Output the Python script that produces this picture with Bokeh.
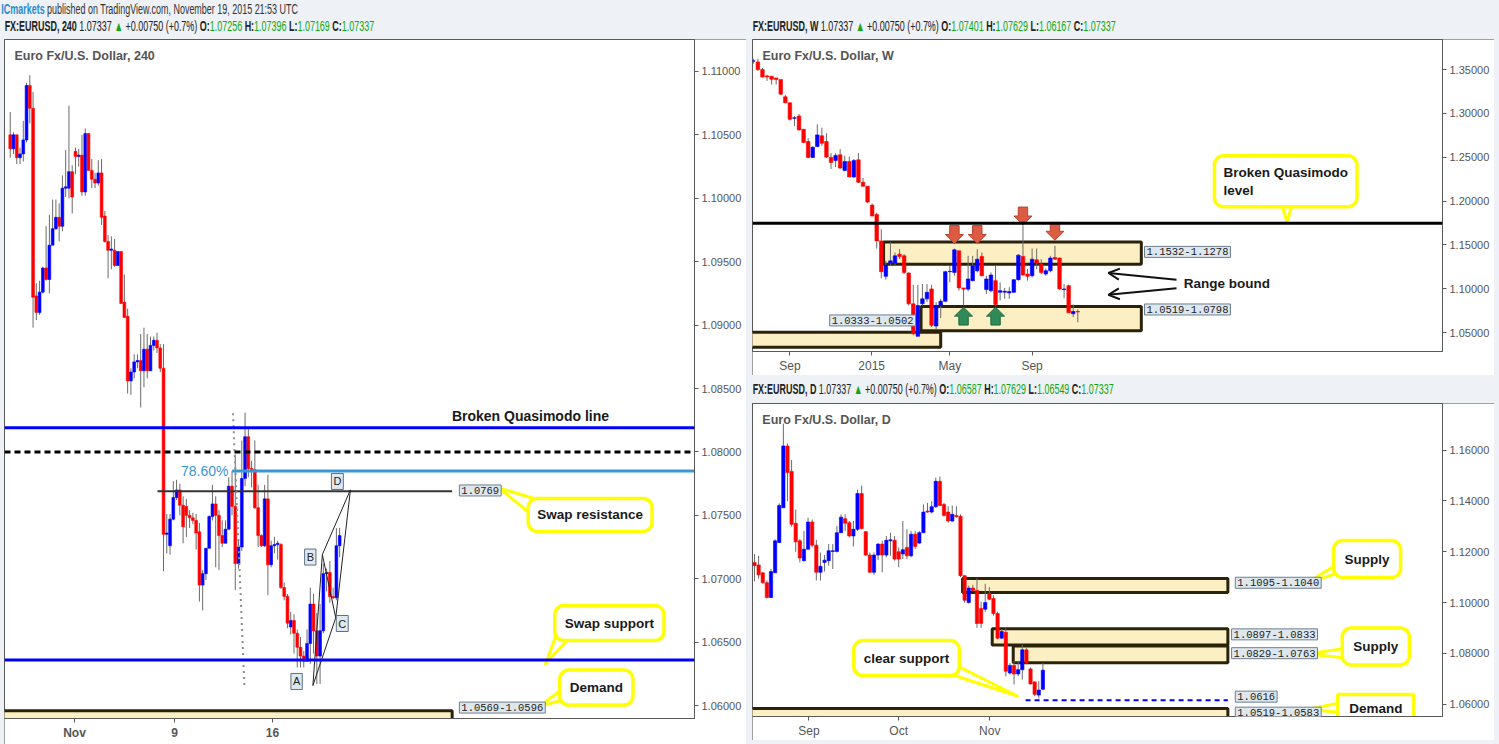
from bokeh.plotting import figure
from bokeh.models import (ColumnDataSource, Range1d, FixedTicker, NumeralTickFormatter, Label, Div,
                          Spacer, Span, Arrow, OpenHead)
from bokeh.layouts import column, row
from bokeh.core.properties import value
from bokeh.embed import file_html
from bokeh.resources import INLINE

# ---------------- 4H data (EURUSD, 240) ----------------
o4 = [1.1050, 1.1039, 1.1050, 1.1032, 1.1035, 1.1046, 1.1089, 1.1071, 1.0923, 1.0910,
      1.0926, 1.0945, 1.0936, 1.0963, 1.0976, 1.0985, 1.0978, 1.1008, 1.1008, 1.1021,
      1.1037, 1.1033, 1.1034, 1.1005, 1.1051, 1.1022, 1.1015, 1.1012, 1.1020, 1.0986,
      1.0966, 1.0959, 1.0959, 1.0947, 1.0958, 1.0918, 1.0907, 1.0856, 1.0863, 1.0871,
      1.0872, 1.0864, 1.0881, 1.0864, 1.0884, 1.0888, 1.0882, 1.0866, 1.0735, 1.0726,
      1.0747, 1.0764, 1.0770, 1.0758, 1.0757, 1.0750, 1.0748, 1.0746, 1.0737, 1.0695,
      1.0704, 1.0724, 1.0749, 1.0759, 1.0750, 1.0734, 1.0728, 1.0739, 1.0773, 1.0757,
      1.0712, 1.0725, 1.0779, 1.0812, 1.0787, 1.0786, 1.0756, 1.0734, 1.0726, 1.0763,
      1.0711, 1.0726, 1.0727, 1.0727, 1.0693, 1.0686, 1.0662, 1.0667, 1.0657, 1.0646,
      1.0639, 1.0635, 1.0649, 1.0680, 1.0659, 1.0639, 1.0659, 1.0704, 1.0705, 1.0686,
      1.0685, 1.0726]
h4 = [1.1068, 1.1052, 1.1050, 1.1040, 1.1061, 1.1091, 1.1097, 1.1084, 1.0933, 1.0935,
      1.0946, 1.0978, 1.0987, 1.0999, 1.0999, 1.0996, 1.1018, 1.1038, 1.1073, 1.1026,
      1.1040, 1.1039, 1.1050, 1.1055, 1.1051, 1.1031, 1.1020, 1.1030, 1.1031, 1.0990,
      1.0971, 1.0970, 1.0968, 1.0958, 1.0958, 1.0940, 1.0913, 1.0866, 1.0877, 1.0877,
      1.0893, 1.0898, 1.0893, 1.0891, 1.0891, 1.0894, 1.0885, 1.0885, 1.0751, 1.0751,
      1.0777, 1.0778, 1.0775, 1.0765, 1.0763, 1.0754, 1.0752, 1.0751, 1.0744, 1.0707,
      1.0724, 1.0750, 1.0774, 1.0765, 1.0754, 1.0746, 1.0746, 1.0780, 1.0785, 1.0798,
      1.0730, 1.0809, 1.0831, 1.0818, 1.0793, 1.0809, 1.0774, 1.0735, 1.0774, 1.0782,
      1.0730, 1.0733, 1.0730, 1.0728, 1.0697, 1.0688, 1.0674, 1.0672, 1.0660, 1.0654,
      1.0643, 1.0660, 1.0693, 1.0688, 1.0673, 1.0680, 1.0712, 1.0708, 1.0714, 1.0693,
      1.0740, 1.0740]
l4 = [1.1032, 1.1035, 1.1027, 1.1027, 1.1029, 1.1044, 1.1059, 1.0898, 1.0904, 1.0908,
      1.0925, 1.0935, 1.0925, 1.0963, 1.0975, 1.0966, 1.0974, 1.1001, 1.1000, 1.0988,
      1.1019, 1.1025, 1.1002, 1.1002, 1.1022, 1.1008, 1.1008, 1.1010, 1.0979, 1.0965,
      1.0937, 1.0944, 1.0946, 1.0947, 1.0917, 1.0906, 1.0846, 1.0845, 1.0858, 1.0866,
      1.0835, 1.0851, 1.0858, 1.0864, 1.0880, 1.0878, 1.0863, 1.0706, 1.0720, 1.0719,
      1.0746, 1.0762, 1.0750, 1.0728, 1.0733, 1.0740, 1.0743, 1.0723, 1.0682, 1.0675,
      1.0699, 1.0724, 1.0746, 1.0709, 1.0707, 1.0725, 1.0728, 1.0739, 1.0750, 1.0691,
      1.0708, 1.0722, 1.0773, 1.0780, 1.0772, 1.0755, 1.0725, 1.0725, 1.0725, 1.0687,
      1.0709, 1.0720, 1.0715, 1.0692, 1.0683, 1.0661, 1.0656, 1.0641, 1.0630, 1.0630,
      1.0630, 1.0635, 1.0633, 1.0641, 1.0617, 1.0617, 1.0657, 1.0690, 1.0681, 1.0684,
      1.0683, 1.0717]
c4 = [1.1039, 1.1050, 1.1032, 1.1035, 1.1046, 1.1089, 1.1071, 1.0922, 1.0910, 1.0926,
      1.0945, 1.0936, 1.0963, 1.0976, 1.0985, 1.0978, 1.1008, 1.1009, 1.1021, 1.1001,
      1.1033, 1.1034, 1.1005, 1.1051, 1.1022, 1.1015, 1.1012, 1.1020, 1.0985, 1.0966,
      1.0959, 1.0960, 1.0947, 1.0958, 1.0917, 1.0906, 1.0856, 1.0863, 1.0871, 1.0872,
      1.0864, 1.0881, 1.0864, 1.0884, 1.0888, 1.0882, 1.0866, 1.0735, 1.0736, 1.0747,
      1.0764, 1.0770, 1.0758, 1.0741, 1.0750, 1.0748, 1.0746, 1.0736, 1.0695, 1.0704,
      1.0724, 1.0749, 1.0759, 1.0750, 1.0734, 1.0728, 1.0739, 1.0773, 1.0757, 1.0712,
      1.0725, 1.0779, 1.0812, 1.0787, 1.0786, 1.0756, 1.0734, 1.0726, 1.0763, 1.0711,
      1.0726, 1.0727, 1.0728, 1.0693, 1.0686, 1.0665, 1.0667, 1.0657, 1.0646, 1.0639,
      1.0635, 1.0649, 1.0680, 1.0659, 1.0639, 1.0659, 1.0704, 1.0705, 1.0686, 1.0685,
      1.0726, 1.0734]
x4_ticks = [19.7, 50.4, 80.4]
x4_labels = ["Nov", "9", "16"]
y4_ticks = [1.060, 1.065, 1.070, 1.075, 1.080, 1.085, 1.090, 1.095, 1.100, 1.105, 1.110]

# ---------------- Weekly data ----------------
wo = [1.3596, 1.3587, 1.3500, 1.3428, 1.3424, 1.3405, 1.3386, 1.3190, 1.3122, 1.2944,
      1.2970, 1.2819, 1.2679, 1.2498, 1.2623, 1.2744, 1.2679, 1.2498, 1.2464, 1.2528,
      1.2350, 1.2452, 1.2275, 1.2471, 1.2214, 1.2169, 1.1954, 1.1848, 1.1545, 1.1141,
      1.1292, 1.1292, 1.1394, 1.1375, 1.1179, 1.0827, 1.0457, 1.0827, 1.0884, 1.0997,
      1.0574, 1.0808, 1.0857, 1.1194, 1.1186, 1.1432, 1.1009, 1.0995, 1.1092, 1.1205,
      1.1368, 1.0990, 1.0978, 1.1092, 1.0959, 1.0959, 1.0952, 1.0959, 1.1103, 1.1368,
      1.1167, 1.1148, 1.1330, 1.1281, 1.1167, 1.1205, 1.1356, 1.1349, 1.0990, 1.1035,
      1.0714, 1.0740]
wh = [1.3624, 1.3624, 1.3518, 1.3443, 1.3424, 1.3405, 1.3386, 1.3209, 1.3122, 1.2970,
      1.2993, 1.2819, 1.2717, 1.2623, 1.2876, 1.2838, 1.2774, 1.2547, 1.2547, 1.2592,
      1.2517, 1.2509, 1.2479, 1.2547, 1.2263, 1.2169, 1.1972, 1.1867, 1.1678, 1.1318,
      1.1534, 1.1413, 1.1451, 1.1394, 1.1186, 1.1043, 1.1043, 1.1054, 1.1054, 1.1043,
      1.0846, 1.0884, 1.1205, 1.1262, 1.1458, 1.1432, 1.1009, 1.1375, 1.1375, 1.1451,
      1.1413, 1.1148, 1.1186, 1.1262, 1.1073, 1.1009, 1.1016, 1.1111, 1.1394, 1.1723,
      1.1224, 1.1458, 1.1458, 1.1337, 1.1232, 1.1375, 1.1489, 1.1356, 1.1054, 1.1046,
      1.0820, 1.0763]
wl = [1.3568, 1.3484, 1.3409, 1.3371, 1.3330, 1.3330, 1.3209, 1.3114, 1.2917, 1.2857,
      1.2804, 1.2660, 1.2490, 1.2490, 1.2615, 1.2630, 1.2490, 1.2366, 1.2388, 1.2366,
      1.2339, 1.2275, 1.2263, 1.2207, 1.2169, 1.1980, 1.1829, 1.1458, 1.1118, 1.1103,
      1.1262, 1.1269, 1.1337, 1.1167, 1.0808, 1.0468, 1.0457, 1.0808, 1.0846, 1.0563,
      1.0536, 1.0665, 1.0846, 1.1073, 1.1148, 1.0978, 1.0808, 1.0971, 1.1084, 1.1186,
      1.1141, 1.0940, 1.0959, 1.0808, 1.0865, 1.0884, 1.0884, 1.0952, 1.1092, 1.1148,
      1.1092, 1.1129, 1.1224, 1.1167, 1.1148, 1.1186, 1.1330, 1.0990, 1.0891, 1.0725,
      1.0676, 1.0617]
wc = [1.3600, 1.3500, 1.3416, 1.3416, 1.3390, 1.3386, 1.3220, 1.3122, 1.2933, 1.2951,
      1.2812, 1.2668, 1.2498, 1.2615, 1.2755, 1.2660, 1.2502, 1.2441, 1.2521, 1.2377,
      1.2452, 1.2275, 1.2464, 1.2214, 1.2169, 1.1988, 1.1829, 1.1545, 1.1194, 1.1269,
      1.1318, 1.1375, 1.1368, 1.1186, 1.0827, 1.0487, 1.0808, 1.0884, 1.0959, 1.0582,
      1.0808, 1.0857, 1.1194, 1.1198, 1.1443, 1.1009, 1.0995, 1.1111, 1.1262, 1.1337,
      1.1148, 1.1111, 1.1156, 1.0820, 1.0978, 1.0971, 1.0967, 1.1103, 1.1383, 1.1156,
      1.1141, 1.1337, 1.1292, 1.1186, 1.1205, 1.1349, 1.1337, 1.0997, 1.0997, 1.0725,
      1.0740, 1.0734]
xw_ticks = [8.0, 25.9, 43.0, 61.0]
xw_labels = ["Sep", "2015", "May", "Sep"]
yw_ticks = [1.05, 1.10, 1.15, 1.20, 1.25, 1.30, 1.35]
red_arrow_bar = [44, 49, 59, 66]
red_arrow_tip = [1.1516, 1.1516, 1.1727, 1.1553]
green_arrow_bar = [46, 53]
green_arrow_tip = [1.0789, 1.0789]

# ---------------- Daily data ----------------
do_ = [1.1158, 1.1148, 1.1117, 1.1078, 1.1020, 1.1117, 1.1236, 1.1373, 1.1616, 1.1516,
       1.1312, 1.1243, 1.1165, 1.1210, 1.1317, 1.1226, 1.1119, 1.1158, 1.1165, 1.1201,
       1.1201, 1.1275, 1.1330, 1.1314, 1.1262, 1.1288, 1.1429, 1.1279, 1.1187, 1.1119,
       1.1187, 1.1230, 1.1187, 1.1243, 1.1245, 1.1200, 1.1191, 1.1217, 1.1184, 1.1269,
       1.1234, 1.1275, 1.1360, 1.1356, 1.1377, 1.1477, 1.1386, 1.1356, 1.1321, 1.1343,
       1.1340, 1.1106, 1.1000, 1.1057, 1.1048, 1.0977, 1.0974, 1.1035, 1.1016, 1.0957,
       1.0860, 1.0883, 1.0723, 1.0753, 1.0719, 1.0736, 1.0814, 1.0739, 1.0688, 1.0636,
       1.0659]
dh = [1.1191, 1.1184, 1.1119, 1.1087, 1.1132, 1.1249, 1.1390, 1.1704, 1.1626, 1.1561,
      1.1366, 1.1249, 1.1282, 1.1334, 1.1327, 1.1247, 1.1197, 1.1187, 1.1230, 1.1230,
      1.1301, 1.1347, 1.1347, 1.1321, 1.1321, 1.1444, 1.1460, 1.1282, 1.1197, 1.1197,
      1.1234, 1.1243, 1.1262, 1.1275, 1.1262, 1.1217, 1.1321, 1.1288, 1.1282, 1.1282,
      1.1282, 1.1386, 1.1392, 1.1399, 1.1492, 1.1496, 1.1392, 1.1379, 1.1382, 1.1379,
      1.1347, 1.1106, 1.1067, 1.1070, 1.1096, 1.1003, 1.1074, 1.1061, 1.1029, 1.0964,
      1.0896, 1.0899, 1.0762, 1.0771, 1.0771, 1.0834, 1.0821, 1.0745, 1.0691, 1.0691,
      1.0763]
dl = [1.1083, 1.1094, 1.1074, 1.1016, 1.1018, 1.1117, 1.1234, 1.1373, 1.1399, 1.1299,
      1.1200, 1.1158, 1.1161, 1.1208, 1.1217, 1.1087, 1.1087, 1.1122, 1.1145, 1.1132,
      1.1197, 1.1273, 1.1282, 1.1256, 1.1221, 1.1282, 1.1288, 1.1184, 1.1117, 1.1109,
      1.1167, 1.1119, 1.1178, 1.1184, 1.1165, 1.1139, 1.1171, 1.1171, 1.1178, 1.1210,
      1.1230, 1.1273, 1.1353, 1.1351, 1.1373, 1.1379, 1.1338, 1.1314, 1.1317, 1.1334,
      1.1100, 1.1000, 1.0996, 1.1044, 1.0901, 1.0901, 1.0964, 1.1009, 1.0948, 1.0857,
      1.0857, 1.0710, 1.0717, 1.0678, 1.0710, 1.0697, 1.0758, 1.0678, 1.0632, 1.0623,
      1.0655]
dc = [1.1145, 1.1109, 1.1078, 1.1020, 1.1122, 1.1243, 1.1382, 1.1616, 1.1512, 1.1308,
      1.1239, 1.1175, 1.1210, 1.1317, 1.1226, 1.1119, 1.1143, 1.1167, 1.1204, 1.1204,
      1.1275, 1.1336, 1.1312, 1.1262, 1.1288, 1.1429, 1.1291, 1.1187, 1.1119, 1.1187,
      1.1230, 1.1187, 1.1245, 1.1247, 1.1171, 1.1171, 1.1208, 1.1184, 1.1269, 1.1221,
      1.1275, 1.1356, 1.1356, 1.1377, 1.1477, 1.1382, 1.1343, 1.1321, 1.1347, 1.1338,
      1.1106, 1.1009, 1.1057, 1.1048, 1.0918, 1.0918, 1.1000, 1.1013, 1.0957, 1.0860,
      1.0886, 1.0730, 1.0753, 1.0719, 1.0736, 1.0814, 1.0762, 1.0680, 1.0639, 1.0656,
      1.0734]
xd_ticks = [13.2, 35.0, 57.1]
xd_labels = ["Sep", "Oct", "Nov"]
yd_ticks = [1.06, 1.08, 1.10, 1.12, 1.14, 1.16]

# ---------------- styling constants ----------------
UP, DN, WICK = "#0000ff", "#ff0000", "#6b6b6b"
ZONE_FILL, ZONE_LINE = "#fdefc4", "#2b2309"
YEL = "#ffff00"
SANS, MONO = "Liberation Sans", "Liberation Mono"
BG = "#eef1f5"
GRN = "#12a812"


def make_fig(w, h, xr, yr, bottom, yticks, xticks, xlabels, xbold=False):
    p = figure(width=w, height=h, x_range=Range1d(*xr), y_range=Range1d(*yr),
               y_axis_location="right", output_backend="svg", toolbar_location=None,
               min_border_left=0, min_border_right=52, min_border_top=0, min_border_bottom=bottom,
               border_fill_color="white", background_fill_color="white")
    p.grid.visible = False
    p.outline_line_color = "#5a5a5a"
    for ax in (p.xaxis[0], p.yaxis[0]):
        ax.axis_line_color = "#5a5a5a"
        ax.major_tick_line_color = "#5a5a5a"
        ax.major_tick_out = 4
        ax.major_tick_in = 0
        ax.minor_tick_out = 0
        ax.minor_tick_in = 0
        ax.major_label_text_color = "#555555"
        ax.major_label_text_font = SANS
        ax.major_label_text_font_size = "11px"
        ax.major_label_standoff = 3
    p.yaxis.ticker = FixedTicker(ticks=yticks)
    p.yaxis.formatter = NumeralTickFormatter(format="0.00000")
    p.xaxis.ticker = FixedTicker(ticks=xticks)
    p.xaxis.major_label_overrides = {t: s for t, s in zip(xticks, xlabels)}
    p.xaxis.major_label_text_font_size = "12px"
    if xbold:
        p.xaxis.major_label_text_font_style = "bold"
    p.styles = {"outline": "1px solid #808080", "outline-offset": "-1px"}
    return p


def candles(p, o, h, l, c, w):
    x = list(range(len(o)))
    src = ColumnDataSource(dict(
        x=x, h=h, l=l,
        top=[max(a, b) for a, b in zip(o, c)],
        bot=[min(a, b) for a, b in zip(o, c)],
        col=[UP if b >= a else DN for a, b in zip(o, c)]))
    p.segment("x", "h", "x", "l", source=src, line_color=WICK, line_width=1)
    p.vbar(x="x", width=w, top="top", bottom="bot", source=src,
           fill_color="col", line_color="col", line_width=0.6)


def axis_tag(p, y, text, bg):
    p.add_layout(Label(x=p.x_range.end, y=y, text=text, x_offset=3, text_align="left",
                       text_baseline="middle", text_color="white", text_font=SANS,
                       text_font_style="bold", text_font_size="11.5px",
                       background_fill_color=bg, padding=3))


def tag(p, x, y, text, font=MONO, size="10.5px"):
    p.add_layout(Label(x=x, y=y, text=text, text_align="left", text_baseline="middle",
                       text_font=font, text_font_size=size, text_color="#222222",
                       background_fill_color="#dfe7ee", border_line_color="#6b7f90",
                       border_line_width=1, padding=2))


def callout(p, x, y, text, tail, pad=9, align="center", size="13.5px"):
    tx = [pt[0] for pt in tail]
    ty = [pt[1] for pt in tail]
    p.patch(tx, ty, fill_color="white", line_color=YEL, line_width=3, line_join="round")
    p.add_layout(Label(x=x, y=y, text=text, text_align=align, text_baseline="middle",
                       text_font=SANS, text_font_style="bold", text_font_size=size,
                       text_color="#1a1a1a", background_fill_color="white",
                       border_line_color=YEL, border_line_width=3.5, border_radius=9,
                       padding=pad))


def title(p, x, y, text):
    p.add_layout(Label(x=x, y=y, text=text, text_align="left", text_baseline="middle",
                       text_font=SANS, text_font_style="bold", text_font_size="12.5px",
                       text_color="#555555"))


def zone(p, left, right, top, bottom):
    p.quad(left=[left], right=[right], top=[top], bottom=[bottom], fill_color=ZONE_FILL,
           line_color=ZONE_LINE, line_width=3)


def block_arrows(p, bars, tips, down, fill, line, hw=1.97, sw=1.03, hh=0.0102, sh=0.0102):
    xs, ys = [], []
    s = 1 if down else -1
    for i, t in zip(bars, tips):
        xs.append([i, i - hw, i - sw, i - sw, i + sw, i + sw, i + hw])
        ys.append([t, t + s * hh, t + s * hh, t + s * (hh + sh), t + s * (hh + sh), t + s * hh, t + s * hh])
    p.patches(xs, ys, fill_color=fill, line_color=line, line_width=1)


# ======================= 4H panel =======================
p4 = make_fig(742, 705, (-1.76, 209.8), (1.05898, 1.11252), 26, y4_ticks, x4_ticks, x4_labels, xbold=True)
zone(p4, -5, 135.5, 1.0596, 1.0569)
candles(p4, o4, h4, l4, c4, 0.85)
p4.add_layout(Span(location=1.0819, dimension="width", line_color="#0000ff", line_width=3))
p4.add_layout(Span(location=1.0800, dimension="width", line_color="#000000", line_width=3, line_dash="6 4"))
p4.add_layout(Span(location=1.0636, dimension="width", line_color="#0000ff", line_width=3))
p4.segment(x0=[68.05], y0=[1.0785], x1=[209.8], y1=[1.0785], line_color="#3a96d4", line_width=3)
p4.segment(x0=[45.15], y0=[1.0769], x1=[135.5], y1=[1.0769], line_color="#333333", line_width=2)
p4.line([68.3, 71.8], [1.08305, 1.06158], line_color="#8c8c8c", line_width=2, line_dash="2 4")
p4.add_layout(Label(x=66.9, y=1.0785, text="78.60%", text_align="right", text_baseline="middle",
                    text_font=SANS, text_font_size="14px", text_color="#3a96d4"))
# ABCD pattern
abcd_x = [92.8, 95.7, 99.8, 104.3]
abcd_y = [1.06158, 1.07191, 1.06692, 1.07701]
p4.line(abcd_x, abcd_y, line_color="#222222", line_width=1)
p4.line([abcd_x[0], abcd_x[2]], [abcd_y[0], abcd_y[2]], line_color="#222222", line_width=1)
p4.line([abcd_x[1], abcd_x[3]], [abcd_y[1], abcd_y[3]], line_color="#222222", line_width=1)
for lx, ly, lt in [(87.8, 1.06190, "A"), (92.0, 1.07171, "B"), (101.8, 1.06647, "C"), (100.3, 1.07767, "D")]:
    p4.add_layout(Label(x=lx, y=ly, text=lt, text_align="center", text_baseline="middle",
                        text_font=SANS, text_font_size="11px", text_color="#222222",
                        background_fill_color="#dfe8f0", border_line_color="#5c6f80",
                        border_line_width=1, padding=2))
title(p4, 1.3, 1.11118, "Euro Fx/U.S. Dollar, 240")
p4.add_layout(Label(x=159.5, y=1.0828, text="Broken Quasimodo line", text_align="center",
                    text_baseline="middle", text_font=SANS, text_font_style="bold",
                    text_font_size="14px", text_color="#1a1a1a"))
tag(p4, 137.7, 1.07696, "1.0769")
tag(p4, 137.7, 1.05984, "1.0569-1.0596")
callout(p4, 177.8, 1.07503, "Swap resistance",
        [(149.8, 1.07717), (158.3, 1.07538), (162.6, 1.07617)], pad=9)
callout(p4, 183.7, 1.06651, "Swap support",
        [(164.1, 1.06329), (167.5, 1.06560), (172.4, 1.06560)], pad=10)
callout(p4, 179.7, 1.06142, "Demand",
        [(162.1, 1.05992), (168.7, 1.06119), (168.7, 1.06040)], pad=10)
axis_tag(p4, 1.0819, "1.08190", "#0000ff")
axis_tag(p4, 1.0800, "1.08000", "#000000")
axis_tag(p4, 1.07337, "1.07337", "#0000ff")
axis_tag(p4, 1.0636, "1.06360", "#0000ff")

# ======================= Weekly panel =======================
pw = make_fig(742, 336, (-0.18, 150.8), (1.02834, 1.38435), 22, yw_ticks, xw_ticks, xw_labels)
zone(pw, 28.5, 84.9, 1.1532, 1.1278)
zone(pw, 36.7, 84.9, 1.0798, 1.0519)
zone(pw, -3, 41.0, 1.0502, 1.0333)
pw.add_layout(Span(location=1.17456, dimension="width", line_color="#000000", line_width=3))
candles(pw, wo, wh, wl, wc, 0.78)
block_arrows(pw, red_arrow_bar, red_arrow_tip, True, "#dd5a43", "#b8432f")
block_arrows(pw, green_arrow_bar, green_arrow_tip, False, "#2f8a57", "#1f6b40")
title(pw, 2.0, 1.36508, "Euro Fx/U.S. Dollar, W")
tag(pw, 85.6, 1.1420, "1.1532-1.1278")
tag(pw, 85.6, 1.0763, "1.0519-1.0798")
tag(pw, 16.7, 1.0638, "1.0333-1.0502")
callout(pw, 100.9, 1.2226, "Broken Quasimodo\nlevel",
        [(116.8, 1.1760), (115.3, 1.2018), (118.2, 1.2018)], pad=9, align="left")
pw.add_layout(Label(x=94.2, y=1.1054, text="Range bound", text_align="left", text_baseline="middle",
                    text_font=SANS, text_font_style="bold", text_font_size="13.5px",
                    text_color="#1a1a1a"))
pw.add_layout(Arrow(end=OpenHead(size=11, line_width=2, line_color="#111111"),
                    x_start=92.6, y_start=1.1103, x_end=77.7, y_end=1.1179,
                    line_width=2, line_color="#111111"))
pw.add_layout(Arrow(end=OpenHead(size=11, line_width=2, line_color="#111111"),
                    x_start=92.6, y_start=1.1006, x_end=77.7, y_end=1.0930,
                    line_width=2, line_color="#111111"))
axis_tag(pw, 1.17456, "1.17456", "#000000")
axis_tag(pw, 1.07337, "1.07337", "#ff0000")

# ======================= Daily panel =======================
pd_ = make_fig(742, 337, (-0.49, 167.0), (1.05519, 1.17831), 21, yd_ticks, xd_ticks, xd_labels)
zone(pd_, 50.5, 114.9, 1.1095, 1.1040)
zone(pd_, 57.7, 114.9, 1.0897, 1.0833)
zone(pd_, 62.8, 114.9, 1.0829, 1.0763)
zone(pd_, -3, 114.9, 1.0583, 1.0519)
pd_.segment(x0=[65.8], y0=[1.0616], x1=[114.9], y1=[1.0616], line_color="#0000ff",
            line_width=2, line_dash="5 4")
candles(pd_, do_, dh, dl, dc, 0.8)
title(pd_, 1.9, 1.17169, "Euro Fx/U.S. Dollar, D")
tag(pd_, 116.7, 1.1078, "1.1095-1.1040")
tag(pd_, 115.8, 1.0875, "1.0897-1.0833")
tag(pd_, 115.8, 1.0801, "1.0829-1.0763")
tag(pd_, 116.7, 1.0630, "1.0616")
tag(pd_, 116.7, 1.0567, "1.0519-1.0583")
callout(pd_, 148.7, 1.11714, "Supply",
        [(134.5, 1.10806), (141.5, 1.11519), (143.4, 1.11247)], pad=11)
callout(pd_, 150.8, 1.08274, "Supply",
        [(134.1, 1.07974), (143.7, 1.08208), (143.7, 1.07818)], pad=11)
callout(pd_, 36.9, 1.07818, "clear support",
        [(63.8, 1.06325), (41.5, 1.07506), (46.4, 1.07740)], pad=10)
# clipped "Demand" callout (drawn as glyphs so the frame clips it)
pd_.patch([134.5, 142.2, 142.2], [1.05804, 1.06065, 1.05675], fill_color="white",
          line_color=YEL, line_width=3)
pd_.rect(x=[150.8], y=[1.0572], width=[76], height=[34], width_units="screen",
         height_units="screen", fill_color="white", line_color=YEL, line_width=3.5)
pd_.text(x=[150.8], y=[1.0583], text=["Demand"], text_align="center", text_baseline="middle",
         text_font=value(SANS), text_font_style="bold", text_font_size="13.5px", text_color="#1a1a1a")
axis_tag(pd_, 1.07337, "1.07337", "#0000ff")

# ======================= headers & layout =======================
FONT = ("font-family:'Liberation Sans',sans-serif;font-size:14px;color:#222;white-space:nowrap;"
        "transform:scaleX(0.64);transform-origin:0 0;")


def hdr(sym, o, h, l, c):
    g = f'style="color:{GRN}"'
    return (f'<b>{sym}</b> 1.07337 <span {g}>&#9650;</span> +0.00750 (+0.7%) '
            f'<b>O:</b><span {g}>{o}</span> <b>H:</b><span {g}>{h}</span> '
            f'<b>L:</b><span {g}>{l}</span> <b>C:</b><span {g}>{c}</span>')


h1 = Div(text=f'<div style="{FONT}line-height:18px;padding-left:2px;color:#333">'
              f'<span style="color:#2a8bd0;font-weight:bold">ICmarkets</span> published on '
              f'TradingView.com, November 19, 2015 21:53 UTC</div>',
         width=1499, height=18, margin=0)
hL = Div(text=f'<div style="{FONT}line-height:17px;padding-left:1px">' + hdr("FX:EURUSD, 240", "1.07256", "1.07396", "1.07169", "1.07337") + '</div>',
         width=742, height=21, margin=0)
hW = Div(text=f'<div style="{FONT}line-height:17px;padding-left:1px">' + hdr("FX:EURUSD, W", "1.07401", "1.07629", "1.06167", "1.07337") + '</div>',
         width=745, height=21, margin=0)
hD = Div(text=f'<div style="{FONT}line-height:28px;padding-left:1px">' + hdr("FX:EURUSD, D", "1.06587", "1.07629", "1.06549", "1.07337") + '</div>',
         width=745, height=28, margin=0)

left_col = column(hL, p4, spacing=0)
right_col = column(hW, pw, hD, pd_, spacing=0)
body = row(Spacer(width=4, height=726), left_col, Spacer(width=6, height=726), right_col, spacing=0)
page = column(h1, body, spacing=0, width=1499, height=744, margin=0,
              styles={"background-color": BG})

open("out.html", "w").write(file_html(page, INLINE))
